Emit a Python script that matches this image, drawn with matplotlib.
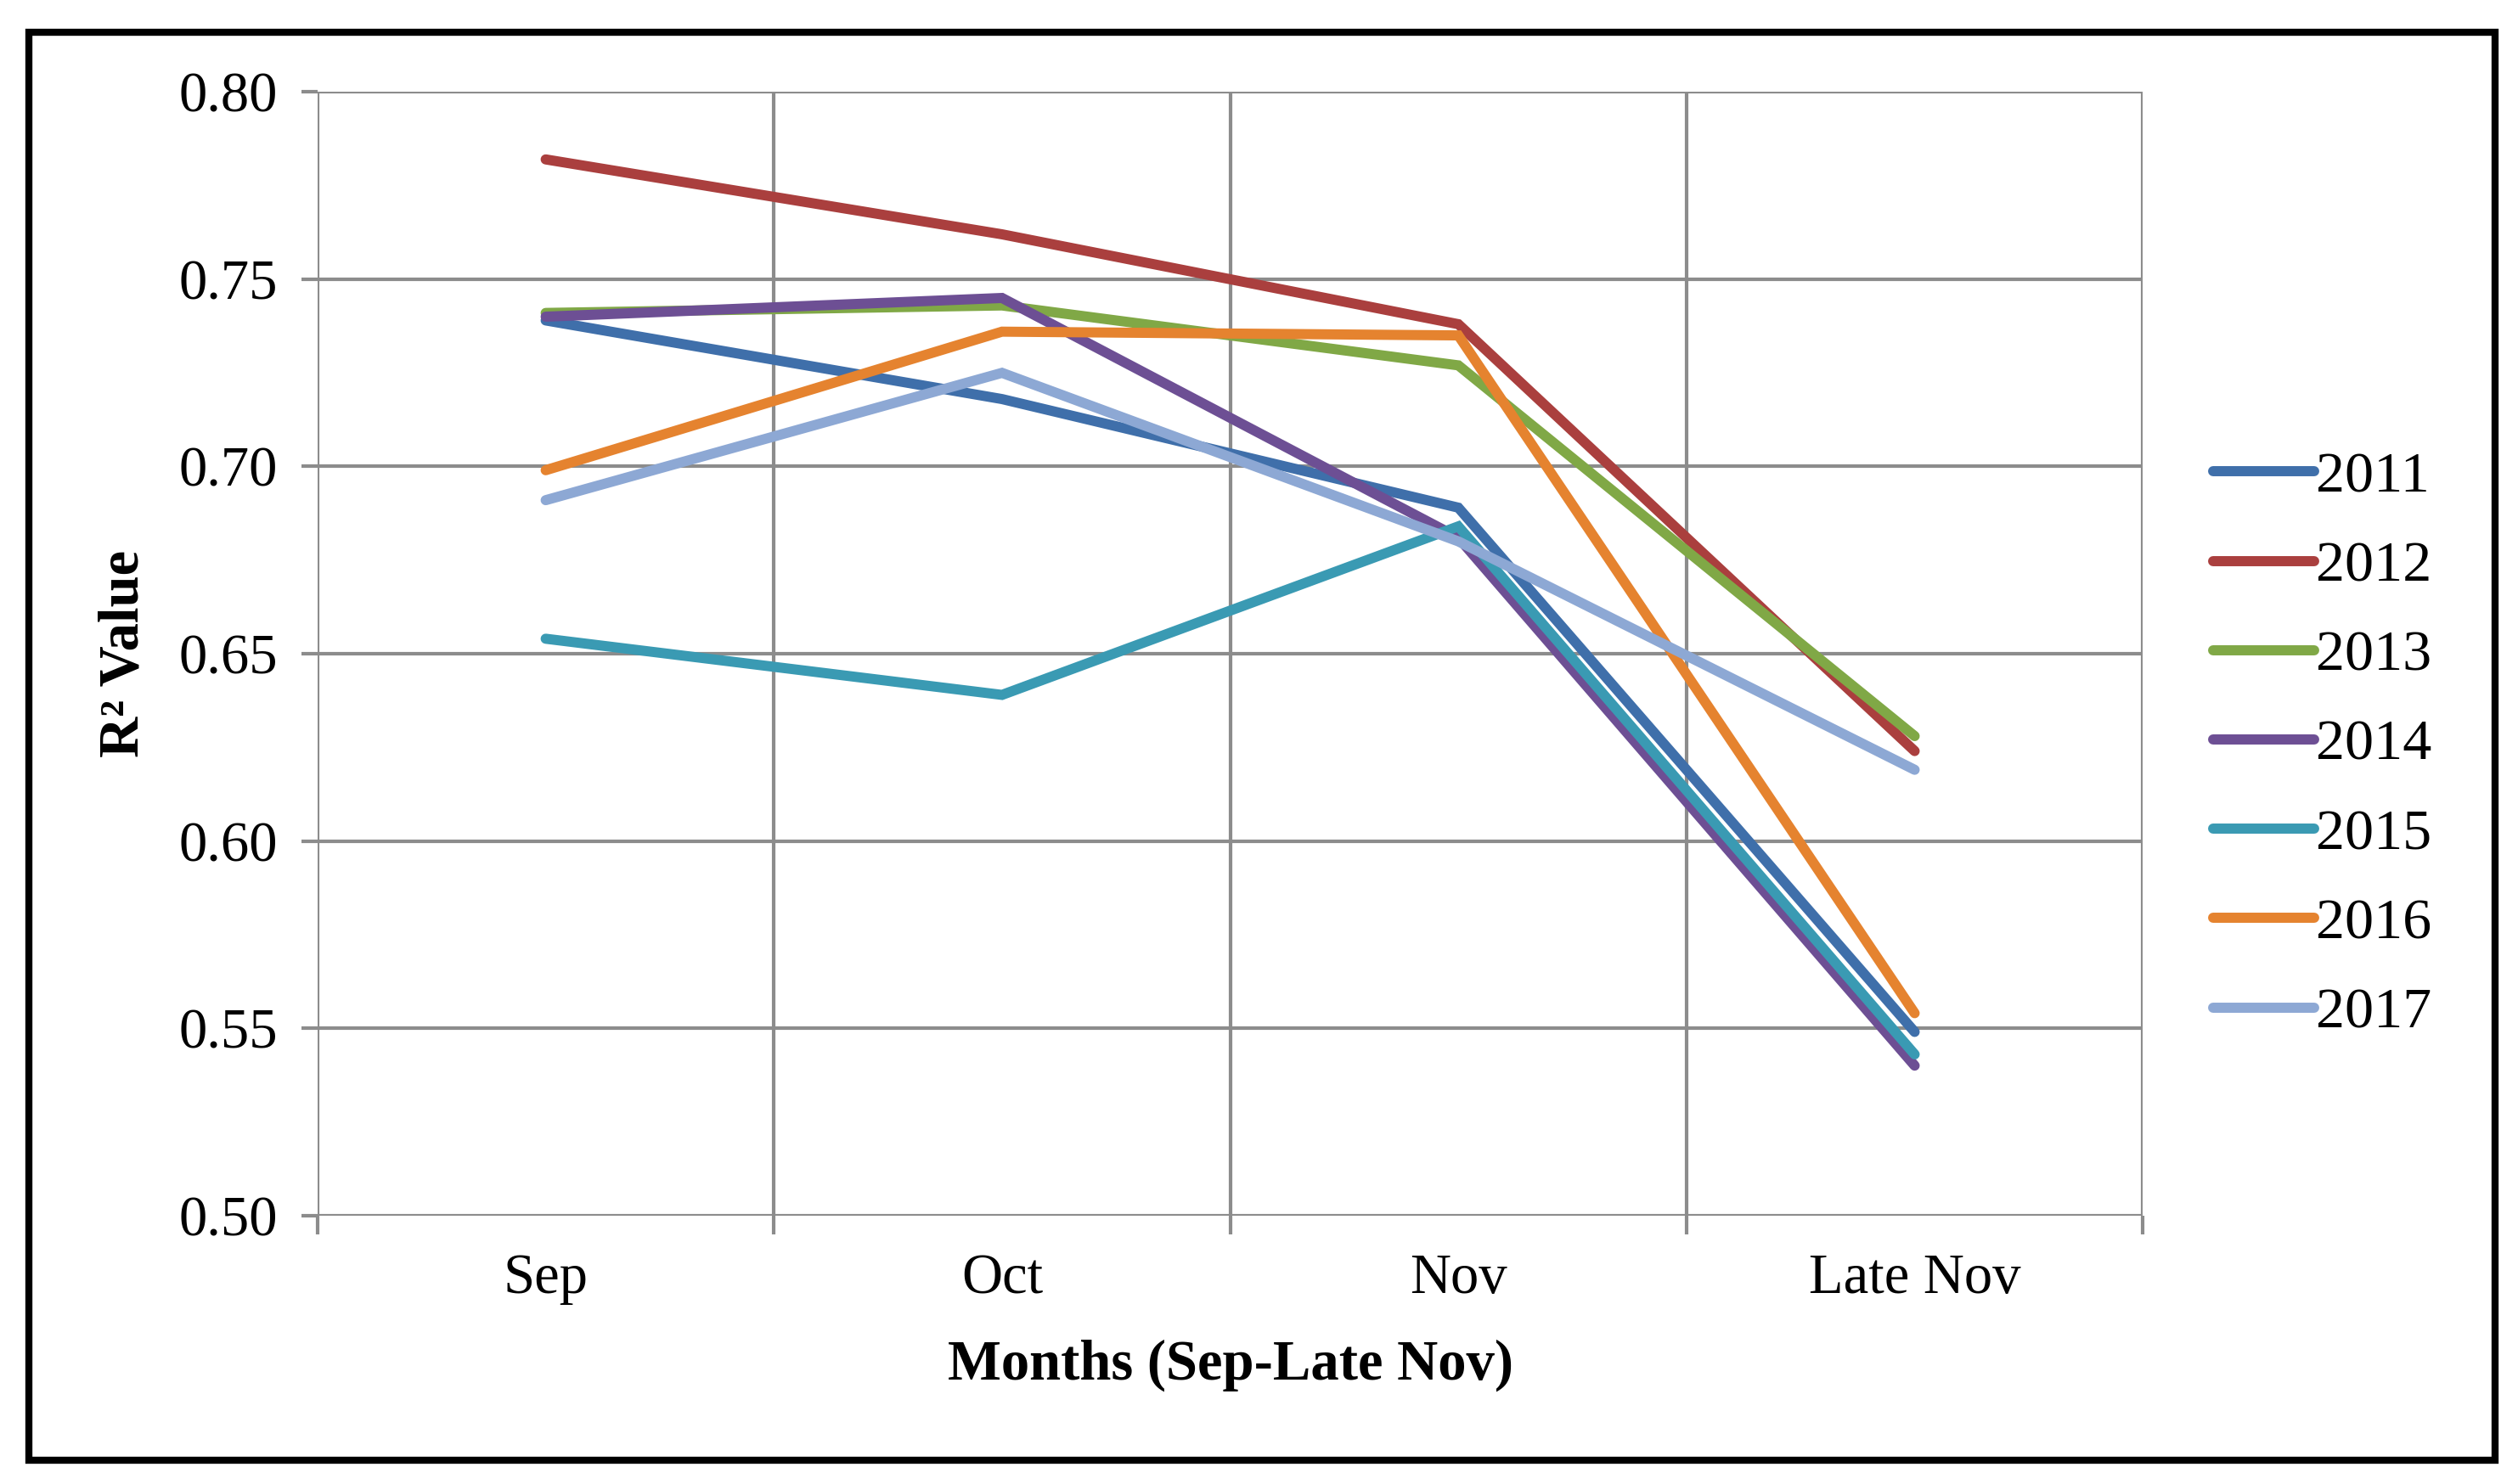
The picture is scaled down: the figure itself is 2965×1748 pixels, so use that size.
import numpy as np
import matplotlib
matplotlib.use('Agg')
from matplotlib import pyplot as plt
from matplotlib.patches import Rectangle

plt.rcParams['font.family'] = ['Liberation Serif', 'DejaVu Serif']

months = ['Sep', 'Oct', 'Nov', 'Late Nov']
years = ['2011', '2012', '2013', '2014', '2015', '2016', '2017']

r2_2011 = [0.739, 0.718, 0.689, 0.549]
r2_2012 = [0.782, 0.762, 0.738, 0.624]
r2_2013 = [0.741, 0.743, 0.727, 0.628]
r2_2014 = [0.740, 0.745, 0.681, 0.540]
r2_2015 = [0.654, 0.639, 0.684, 0.543]
r2_2016 = [0.699, 0.736, 0.735, 0.554]
r2_2017 = [0.691, 0.725, 0.680, 0.619]

series = [r2_2011, r2_2012, r2_2013, r2_2014, r2_2015, r2_2016, r2_2017]
colors = ['#3F6FAA', '#AA3F3E', '#80A846', '#6D4F94', '#3A9AB3', '#E5832F', '#8DA8D4']

fig = plt.figure(figsize=(14.825, 8.74), dpi=200)
ax = fig.add_axes([0.1261, 0.181, 0.851 - 0.1261, 0.938 - 0.181])

x = np.arange(len(months))
for vals, c, lab in zip(series, colors, years):
    ax.plot(x, vals, color=c, lw=4.3, label=lab, solid_capstyle='round',
            solid_joinstyle='miter', zorder=3)

ax.set_xlim(-0.5, 3.5)
ax.set_ylim(0.5, 0.8)
ax.set_yticks(np.arange(0.50, 0.801, 0.05))
ax.set_yticklabels(['%.2f' % v for v in np.arange(0.50, 0.801, 0.05)])
ax.set_xticks(x)
ax.set_xticklabels(months)
ax.set_xticks(np.arange(-0.5, 3.6, 1.0), minor=True)

grid_c = '#8C8C8C'
ax.grid(False)
for v in np.arange(0.50, 0.801, 0.05):
    ax.axhline(v, color=grid_c, lw=1.5, zorder=1)
for b in np.arange(-0.5, 3.6, 1.0):
    ax.axvline(b, color=grid_c, lw=1.5, zorder=1)
for s in ax.spines.values():
    s.set_visible(False)

ax.tick_params(axis='y', which='major', length=7, width=1.5, color=grid_c,
               labelsize=24, pad=10)
ax.tick_params(axis='x', which='major', length=0, labelsize=24, pad=16)
ax.tick_params(axis='x', which='minor', length=8, width=1.5, color=grid_c,
               direction='out')

ax.set_xlabel('Months (Sep-Late Nov)', fontsize=24, fontweight='bold')
ax.xaxis.set_label_coords(0.5, -0.11)
ax.set_ylabel('R² Value', fontsize=24, fontweight='bold')
ax.yaxis.set_label_coords(-0.092, 0.5)

ax.legend(loc='center left', bbox_to_anchor=(0.8788, 0.4977),
          bbox_transform=fig.transFigure, frameon=False, fontsize=24.5,
          handlelength=1.75, handletextpad=0.03, labelspacing=0.64,
          borderpad=0, borderaxespad=0)

fig.patches.append(Rectangle((34 / 2965, 1 - 1720 / 1748),
                             (2938 - 34) / 2965, (1720 - 38) / 1748,
                             transform=fig.transFigure, fill=False,
                             edgecolor='black', lw=3))

fig.savefig('out.png', dpi=200, facecolor='white')
